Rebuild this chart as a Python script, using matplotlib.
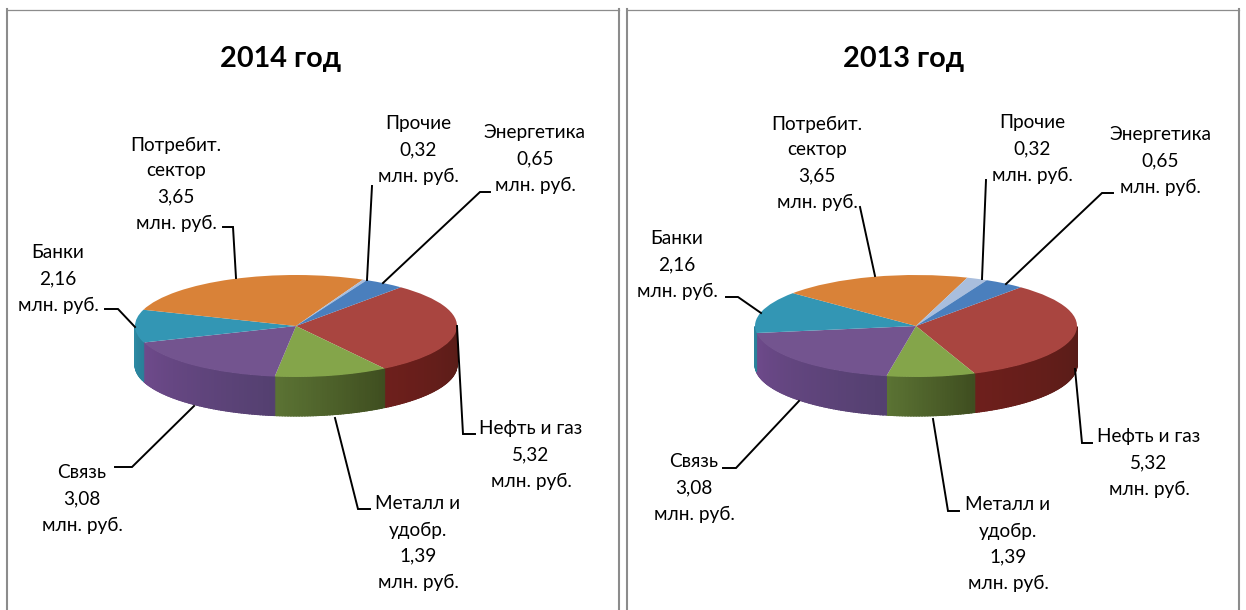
import numpy as np
import matplotlib
matplotlib.use("Agg")
import matplotlib.pyplot as plt
from matplotlib.colors import to_rgb

plt.rcParams['font.family'] = ['Lato', 'Open Sans', 'DejaVu Sans']

W, H = 1246, 610

categories = ['Нефть и газ', 'Металл и\nудобр.', 'Связь', 'Банки', 'Потребит.\nсектор', 'Прочие', 'Энергетика']
label_values = ['5,32', '1,39', '3,08', '2,16', '3,65', '0,32', '0,65']
unit = 'млн. руб.'

# slice angles as they look on the picture, degrees
shares_2014 = [106, 41, 63.5, 37.5, 96, 1.5, 14.5]
shares_2013 = [118, 32, 71.5, 48, 68.5, 7.5, 14.5]

top_colors = ['#a94540', '#84a54a', '#73548f', '#3396b4', '#d98238', '#a9bedd', '#4a7fbd']
wall_left = ['#6e1f1c', '#5c7434', '#6f4a8c', '#3096b0', '#b06a2c', '#8798b0', '#3a6699']
wall_right = ['#451a14', '#3f4e20', '#544070', '#2a8099', '#80501f', '#6a7688', '#2a4a70']

leaders_2014 = [[(457, 326), (463, 434), (475, 434)],
                [(335, 418), (358, 509), (370, 509)],
                [(194, 406), (132, 467), (115, 467)],
                [(135, 327), (118, 309), (105, 309)],
                [(236, 278), (233, 227), (223, 227)],
                [(367, 280), (372, 186)],
                [(383, 283), (480, 192), (490, 192)]]
leaders_2013 = [[(1075, 369), (1082, 443), (1092, 443)],
                [(933, 419), (948, 511), (959, 511)],
                [(799, 401), (736, 468), (723, 468)],
                [(761, 313), (738, 297), (726, 297)],
                [(875, 276), (860, 207)],
                [(982, 279), (986, 180)],
                [(1006, 284), (1102, 193), (1113, 193)]]

text_2014 = [(531, 455), (418, 543), (82, 499), (58, 279), (176, 184), (418, 150), (535, 159)]
text_2013 = [(1149, 463), (1008, 544), (694, 488), (677, 265), (817, 163), (1032, 149), (1160, 161)]


def add_panel(fig, bg, share, cx, cy, rx, ry, depth, title, title_x, leaders, text_pos, x0, x1):
    # panel frame
    bg.plot([x0, x1], [9.5, 9.5], color='#8c8c8c', lw=0.9)
    bg.plot([x0, x0], [9, H], color='#8c8c8c', lw=1.5)
    bg.plot([x1, x1], [9, H], color='#8c8c8c', lw=1.5)
    bg.text(title_x, 59, title, ha='center', va='center', fontsize=20.8, fontweight='bold', color='black')

    # axes in pie units, so that the circle comes out as an ellipse
    ax = fig.add_axes([0, 0, 1, 1], zorder=2)
    ax.patch.set_alpha(0)
    ax.pie(share, colors=top_colors, startangle=49.4, counterclock=False, radius=1,
           wedgeprops={'linewidth': 0, 'zorder': 5})
    ax.set_aspect('auto')
    ax.set_xlim((0 - cx) / rx, (W - cx) / rx)
    ax.set_ylim((cy - H) / ry, cy / ry)
    ax.axis('off')

    # side wall, only the part that faces us
    edges = 49.4 - np.concatenate([[0], np.cumsum(share)])
    d = depth / ry
    for i in range(len(share)):
        a0, a1 = edges[i], edges[i + 1]
        for a in np.arange(a0, a1, -1.0):
            b = max(a - 1.5, a1)
            lo, hi = b % 360, ((a - 1e-9) % 360)
            if not (180 <= lo <= 360 and 180 <= hi <= 360):
                continue
            t = (a0 - a) / max(a0 - a1, 1)
            col = np.array(to_rgb(wall_right[i])) * (1 - t) + np.array(to_rgb(wall_left[i])) * t
            th = np.radians(np.linspace(a, b, 3))
            xs = np.cos(th)
            ys = np.sin(th)
            ax.fill(np.r_[xs, xs[::-1]], np.r_[ys, ys[::-1] - d], color=col, lw=0.8, zorder=3)

    # leader lines and labels
    for pts in leaders:
        p = np.array(pts)
        bg.plot(p[:, 0], p[:, 1], color='black', lw=1.4, solid_joinstyle='miter', zorder=4)
    for i, (tx, ty) in enumerate(text_pos):
        s = categories[i] + '\n' + label_values[i] + '\n' + unit
        bg.text(tx, ty, s, ha='center', va='center', fontsize=13.7, color='black', linespacing=1.64, zorder=5)


fig = plt.figure(figsize=(W / 100, H / 100), dpi=100, facecolor='white')
bg = fig.add_axes([0, 0, 1, 1], zorder=3)
bg.set_xlim(0, W)
bg.set_ylim(H, 0)
bg.axis('off')
bg.patch.set_alpha(0)

add_panel(fig, bg, shares_2014, 296, 326, 161, 51, 39, '2014 год', 281, leaders_2014, text_2014, 7, 619)
add_panel(fig, bg, shares_2013, 916, 326, 161, 51, 39, '2013 год', 904, leaders_2013, text_2013, 627, 1239)

fig.savefig('out.png', dpi=100)
